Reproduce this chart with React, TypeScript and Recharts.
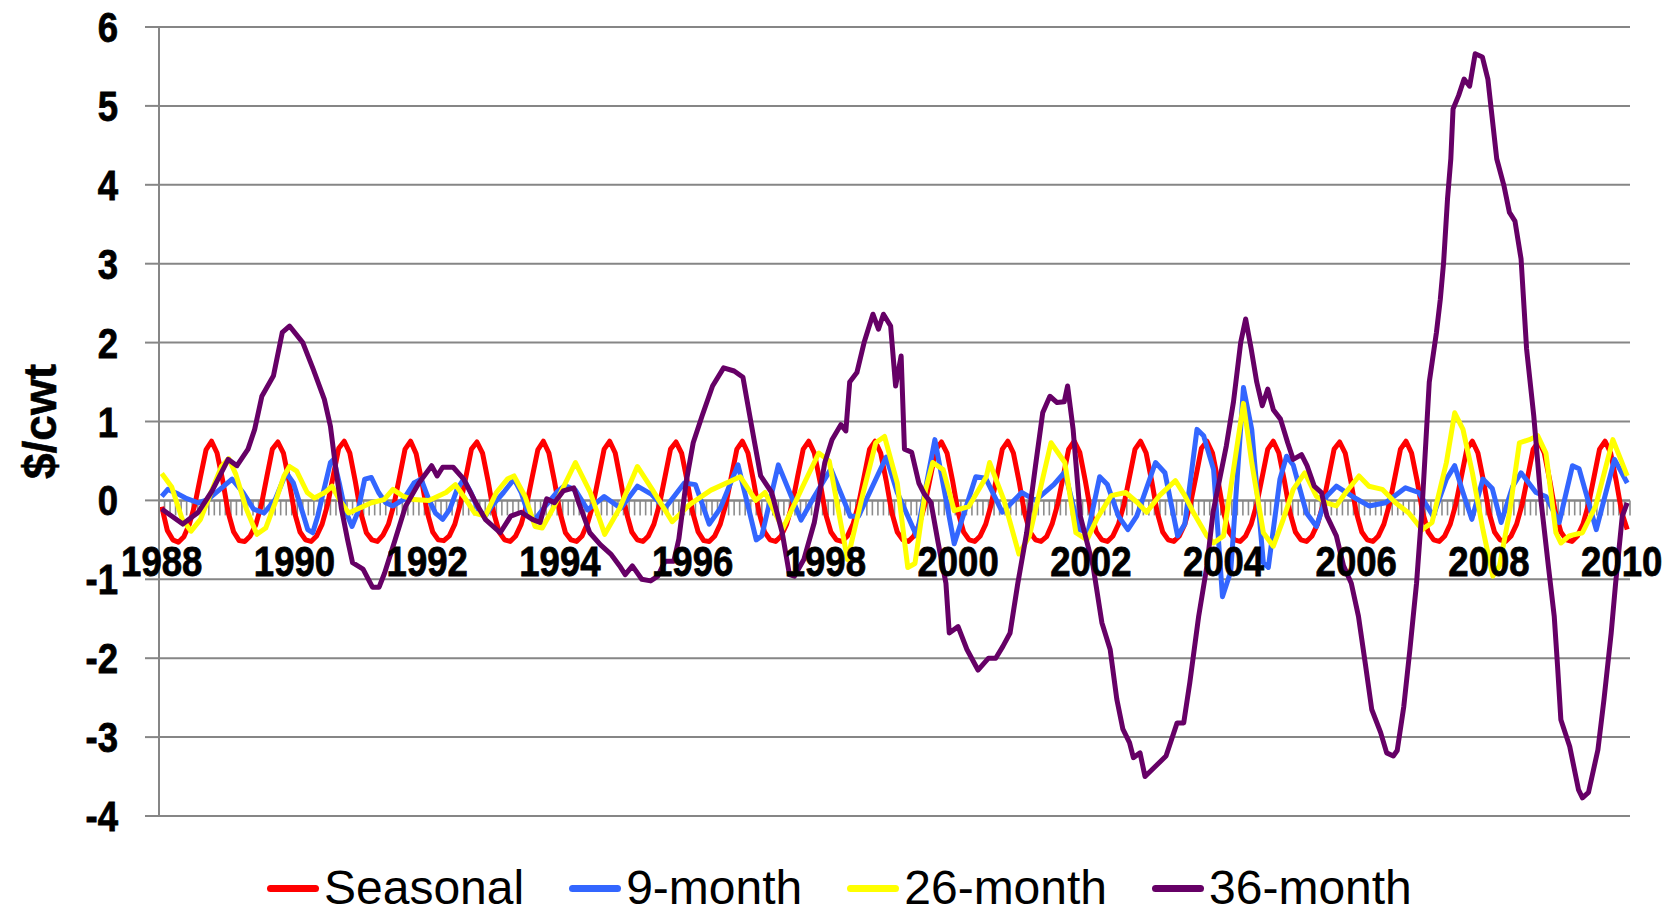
import React from 'react';
import { LineChart, Line, XAxis, YAxis, CartesianGrid, ReferenceLine, ReferenceDot } from 'recharts';

document.body.style.margin = '0';

const FONT = '"Liberation Sans", Arial, Helvetica, sans-serif';
const GRID = '#868686';

// monthly categories Jan 1988 .. Feb 2010, a label every 24 months
const yearLabels = ['1988', '1990', '1992', '1994', '1996', '1998', '2000', '2002', '2004', '2006', '2008', '2010'];
const yTicks = [-4, -3, -2, -1, 0, 1, 2, 3, 4, 5, 6];

// Seasonal cycle, one value per month (Jan..Dec rows)
const seasonal = [
  -0.08, -0.38, -0.5, -0.53, -0.46, -0.3, -0.05, 0.3, 0.64, 0.75, 0.6, 0.26,
  -0.15, -0.4, -0.51, -0.52, -0.45, -0.31, -0.06, 0.3, 0.65, 0.74, 0.6, 0.25,
  -0.15, -0.4, -0.5, -0.52, -0.45, -0.3, -0.05, 0.31, 0.66, 0.75, 0.6, 0.24,
  -0.16, -0.41, -0.5, -0.52, -0.44, -0.3, -0.05, 0.3, 0.65, 0.75, 0.59, 0.25,
  -0.15, -0.4, -0.5, -0.51, -0.45, -0.3, -0.04, 0.3, 0.65, 0.74, 0.6, 0.25,
  -0.15, -0.4, -0.5, -0.52, -0.45, -0.3, -0.05, 0.3, 0.64, 0.75, 0.6, 0.25,
  -0.15, -0.41, -0.5, -0.52, -0.45, -0.29, -0.05, 0.3, 0.65, 0.75, 0.6, 0.24,
  -0.15, -0.4, -0.5, -0.52, -0.45, -0.3, -0.05, 0.3, 0.65, 0.74, 0.6, 0.25,
  -0.15, -0.4, -0.51, -0.52, -0.45, -0.3, -0.05, 0.3, 0.65, 0.75, 0.6, 0.25,
  -0.15, -0.4, -0.5, -0.52, -0.45, -0.3, -0.05, 0.31, 0.65, 0.75, 0.6, 0.25,
  -0.16, -0.4, -0.5, -0.52, -0.45, -0.3, -0.05, 0.3, 0.65, 0.75, 0.6, 0.25,
  -0.15, -0.4, -0.5, -0.52, -0.45, -0.3, -0.05, 0.3, 0.65, 0.74, 0.6, 0.25,
  -0.15, -0.4, -0.5, -0.52, -0.45, -0.3, -0.05, 0.3, 0.65, 0.75, 0.6, 0.25,
  -0.15, -0.4, -0.5, -0.52, -0.46, -0.3, -0.05, 0.3, 0.65, 0.75, 0.61, 0.25,
  -0.15, -0.4, -0.5, -0.52, -0.45, -0.3, -0.05, 0.3, 0.65, 0.75, 0.6, 0.25,
  -0.15, -0.4, -0.5, -0.52, -0.45, -0.3, -0.05, 0.3, 0.66, 0.75, 0.6, 0.25,
  -0.15, -0.4, -0.5, -0.52, -0.45, -0.3, -0.05, 0.3, 0.65, 0.75, 0.6, 0.25,
  -0.15, -0.4, -0.5, -0.52, -0.45, -0.3, -0.05, 0.3, 0.65, 0.74, 0.6, 0.25,
  -0.15, -0.4, -0.5, -0.52, -0.45, -0.3, -0.05, 0.3, 0.65, 0.75, 0.6, 0.25,
  -0.15, -0.4, -0.5, -0.52, -0.45, -0.3, -0.05, 0.3, 0.65, 0.75, 0.6, 0.25,
  -0.15, -0.4, -0.5, -0.52, -0.45, -0.3, -0.05, 0.3, 0.65, 0.75, 0.6, 0.25,
  -0.15, -0.4, -0.5, -0.52, -0.45, -0.3, -0.05, 0.3, 0.65, 0.75, 0.6, 0.25,
  -0.15, -0.37,
];

// [month index, $/cwt]
const nineMonth = [
  [0, 0.05], [1.1, 0.14], [3, 0.08], [4.3, 0.03], [6.6, -0.03], [8.3, 0.01], [10.2, 0.12], [12.7, 0.27],
  [14.7, 0.1], [16.6, -0.11], [18.5, -0.16], [20.5, 0.01], [22.5, 0.35], [23.8, 0.22], [25.1, -0.07],
  [26.4, -0.37], [27.3, -0.41], [28.2, -0.2], [29.2, 0.1], [30.5, 0.48], [31.1, 0.52], [32.1, 0.22],
  [33.1, -0.11], [34.4, -0.33], [35.4, -0.16], [36.7, 0.27], [37.9, 0.29], [39.2, 0.1], [40.5, -0.03],
  [41.8, -0.07], [43.7, 0.01], [45.6, 0.22], [46.9, 0.27], [48.3, 0.01], [49.5, -0.16], [50.8, -0.24],
  [52.1, -0.11], [53.4, 0.14], [54.6, 0.27], [55.9, 0.1], [57.2, -0.11], [58.5, -0.2], [59.7, -0.07],
  [61.8, 0.1], [63.7, 0.27], [65, 0.1], [66.2, -0.16], [67.5, -0.24], [69.4, -0.07], [71.4, 0.1],
  [72.9, 0.19], [74.8, 0.13], [77, -0.12], [80, 0.05], [83, -0.1], [86, 0.18], [88.5, 0.08], [91, -0.1],
  [94.5, 0.22], [96.5, 0.2], [99, -0.3], [101, -0.1], [104.2, 0.45], [107.5, -0.5], [108.5, -0.45],
  [111.5, 0.45], [115.6, -0.25], [118, 0.05], [121, 0.4], [124.5, -0.2], [126, -0.2], [131, 0.55],
  [133, 0.1], [136.5, -0.45], [139.8, 0.77], [143.3, -0.55], [147.2, 0.3], [149, 0.28], [152, -0.15],
  [155.5, 0.1], [158, 0], [161.3, 0.2], [163.3, 0.36], [165.9, -0.37], [167.5, -0.4], [169.6, 0.3],
  [171, 0.2], [173, -0.2], [174.7, -0.37], [176.3, -0.2], [179.7, 0.48], [181.4, 0.35], [183.7, -0.45],
  [185, -0.3], [187.2, 0.9], [188.4, 0.82], [190.2, 0.39], [191.8, -1.22], [193.3, -0.9], [195.6, 1.43],
  [197.1, 0.9], [199.2, -0.79], [200.1, -0.85], [202.2, 0.27], [203.4, 0.56], [204.6, 0.45], [207, -0.16],
  [208.8, -0.33], [210.6, 0.05], [212.4, 0.18], [215.3, 0.05], [218.3, -0.07], [221.3, -0.03], [224.9, 0.16],
  [227.3, 0.1], [229.9, -0.2], [232.3, 0.27], [233.8, 0.44], [235.3, 0.1], [236.9, -0.24], [238.9, 0.27],
  [240.6, 0.15], [242.2, -0.28], [244.3, 0.18], [245.8, 0.35], [248.5, 0.1], [250.3, 0.05], [252.7, -0.28],
  [255.1, 0.44], [256.3, 0.4], [259.4, -0.37], [262.7, 0.52], [265, 0.22],
];

const twentySixMonth = [
  [0, 0.34], [1.8, 0.17], [3.7, -0.24], [5.3, -0.39], [7, -0.24], [8.9, 0.1], [10.8, 0.43], [12.1, 0.53],
  [13.4, 0.33], [15.3, -0.11], [17.2, -0.43], [18.8, -0.35], [20.5, -0.03], [22.1, 0.31], [23.1, 0.43],
  [24.4, 0.37], [26.3, 0.1], [27.6, 0.03], [29.5, 0.1], [30.8, 0.18], [32.1, 0.01], [33.8, -0.16],
  [35.4, -0.11], [37.9, -0.03], [40.2, 0.01], [41.8, 0.14], [43.7, 0.05], [45.6, 0.01], [48.3, 0],
  [51.4, 0.1], [53.1, 0.2], [54.6, 0.05], [56.6, -0.16], [58.5, -0.2], [60.5, 0.1], [62.5, 0.27],
  [63.7, 0.31], [65.7, 0.05], [67.5, -0.33], [68.8, -0.35], [70.7, -0.11], [74.8, 0.48], [77.5, 0.1],
  [80.1, -0.43], [82.8, -0.1], [86, 0.43], [88.6, 0.15], [92.3, -0.27], [95.5, -0.05], [99.3, 0.13],
  [104.6, 0.3], [107.4, 0], [109.1, 0.1], [112.3, -0.36], [116.2, 0.22], [118.8, 0.6], [120.7, 0.5],
  [124, -0.75], [126.5, 0], [129.1, 0.73], [130.7, 0.81], [133, 0.22], [134.9, -0.85], [136.2, -0.8],
  [138.1, 0.13], [139.4, 0.48], [141.3, 0.39], [143.3, -0.13], [145.9, -0.08], [149.1, 0.3], [149.7, 0.48],
  [152.3, 0], [155, -0.68], [156.9, -0.45], [160.8, 0.73], [163.3, 0.48], [165.3, -0.41], [167.3, -0.5],
  [169.2, -0.22], [171.7, 0.06], [174.3, 0.1], [176.3, -0.02], [178.1, -0.15], [180.4, 0.06], [183.3, 0.25],
  [185, 0.06], [186.6, -0.16], [189, -0.45], [190.2, -0.54], [192, -0.45], [195.6, 1.23], [197.1, 0.48],
  [199.2, -0.41], [201, -0.58], [202.8, -0.24], [204.6, 0.14], [206.7, 0.35], [208.8, 0.05], [210.6, -0.03],
  [212.4, -0.07], [214.1, 0.1], [216.5, 0.31], [218.3, 0.18], [220.7, 0.14], [223.1, -0.03], [225.5, -0.16],
  [227.9, -0.37], [229.7, -0.28], [232.3, 0.48], [233.8, 1.11], [235.3, 0.9], [237, 0.35], [238.9, -0.37],
  [240.7, -0.96], [241.9, -0.83], [243.7, -0.16], [245.5, 0.73], [247.3, 0.77], [248.8, 0.82], [250.3, 0.6],
  [252.1, -0.41], [253, -0.54], [254.5, -0.45], [256.9, -0.41], [259.3, -0.07], [262.4, 0.77], [265, 0.31],
];

const thirtySixMonth = [
  [0, -0.11], [3.8, -0.3], [6.6, -0.15], [9.1, 0.12], [12, 0.52], [13.6, 0.44], [15.6, 0.65], [16.8, 0.9],
  [18.1, 1.32], [20.2, 1.58], [21.8, 2.13], [23.1, 2.21], [25.5, 2], [27.4, 1.66], [29.4, 1.28], [30.5, 0.94],
  [31.4, 0.44], [32.5, -0.11], [33.6, -0.5], [34.5, -0.79], [36.4, -0.87], [38.1, -1.1], [39.3, -1.1],
  [40.3, -0.92], [42.2, -0.5], [44.1, -0.07], [46.5, 0.22], [48.8, 0.44], [49.8, 0.31], [50.8, 0.42],
  [52.7, 0.42], [54.6, 0.27], [56.5, 0.01], [58.5, -0.24], [61.2, -0.41], [63.1, -0.2], [65, -0.15],
  [67, -0.24], [68.4, -0.28], [69.6, 0.02], [71, -0.03], [72.6, 0.12], [74.5, 0.16], [75.4, -0.03],
  [77.4, -0.41], [79.3, -0.56], [81.2, -0.68], [82.8, -0.83], [83.8, -0.94], [85.1, -0.83], [86.8, -1],
  [88.4, -1.02], [89.7, -0.96], [91, -0.77], [92.6, -0.77], [93.5, -0.49], [94.8, 0.22], [96.1, 0.73],
  [97.7, 1.07], [99.6, 1.45], [101.6, 1.68], [103.5, 1.64], [105.1, 1.56], [105.8, 1.28], [107.1, 0.77],
  [108.3, 0.31], [110.3, 0.1], [112.2, -0.41], [113.5, -0.94], [114.4, -0.96], [116.1, -0.75], [118, -0.28],
  [119.9, 0.48], [121.2, 0.77], [122.8, 0.96], [123.7, 0.88], [124.4, 1.5], [125.7, 1.62], [127, 2],
  [128.6, 2.36], [129.6, 2.17], [130.5, 2.36], [131.8, 2.21], [132.7, 1.45], [133.7, 1.83], [134.3, 0.65],
  [135.6, 0.61], [136.9, 0.22], [137.9, 0.08], [139.1, -0.03], [140.4, -0.54], [141.8, -1.05], [142.4, -1.68],
  [144, -1.6], [145.6, -1.89], [147.6, -2.15], [149.5, -2], [150.8, -2], [152.1, -1.85], [153.4, -1.68],
  [154.8, -1.05], [156.4, -0.41], [158, 0.44], [159.3, 1.11], [160.6, 1.32], [161.9, 1.24], [163.2, 1.25],
  [163.8, 1.45], [164.8, 0.9], [166.1, -0.2], [168.4, -0.83], [170, -1.55], [171.5, -1.89], [172.7, -2.52],
  [173.8, -2.9], [175, -3.07], [175.7, -3.26], [176.9, -3.2], [177.8, -3.5], [179.7, -3.37], [181.6, -3.24],
  [183.6, -2.82], [184.8, -2.82], [185.9, -2.31], [187.5, -1.47], [189, -0.83], [190.1, -0.15], [192.5, 0.69],
  [193.8, 1.25], [195.1, 2], [196, 2.3], [197, 1.92], [198, 1.5], [199, 1.2], [200, 1.41], [201, 1.15],
  [202.3, 1.03], [203.6, 0.73], [204.6, 0.52], [206.1, 0.58], [207.1, 0.44], [208.4, 0.18], [209.7, 0.1],
  [210.7, -0.2], [212.4, -0.45], [213.7, -0.83], [215.1, -1.05], [216.4, -1.47], [217.7, -2.1], [218.8, -2.65],
  [220.4, -2.94], [221.5, -3.2], [222.7, -3.24], [223.4, -3.17], [224.6, -2.61], [225.7, -1.89], [226.9, -1.05],
  [227.9, -0.1], [229.2, 1.5], [230.5, 2.13], [231.2, 2.55], [231.8, 3.02], [232.5, 3.82], [233.1, 4.33],
  [233.5, 4.96], [234.5, 5.13], [235.5, 5.34], [236.5, 5.25], [237.5, 5.66], [238.8, 5.62], [239.8, 5.34],
  [240.4, 4.96], [241.4, 4.33], [242.7, 3.99], [243.7, 3.65], [244.7, 3.54], [245.8, 3.06], [246.8, 1.92],
  [248.1, 1.07], [249.4, 0], [250.8, -0.87], [251.8, -1.47], [252.4, -2.1], [253, -2.78], [254.6, -3.12],
  [256.2, -3.67], [256.9, -3.77], [258, -3.7], [259.7, -3.16], [260.8, -2.52], [262.1, -1.68], [262.9, -1.05],
  [264.1, -0.2], [265, -0.03],
];

const series = [
  { name: 'Seasonal', color: '#ff0000', data: seasonal.map((v, i) => ({ m: i, v })) },
  { name: '9-month', color: '#3366ff', data: nineMonth.map(([m, v]) => ({ m, v })) },
  { name: '26-month', color: '#ffff00', data: twentySixMonth.map(([m, v]) => ({ m, v })) },
  { name: '36-month', color: '#660066', data: thirtySixMonth.map(([m, v]) => ({ m, v })) },
];

const monthCount = seasonal.length;

const YTick = (props: any) => {
  const { x, y, payload } = props;
  return (
    <g transform={`translate(${x},${y})`}>
      <text transform="scale(0.85,1)" textAnchor="end" dy={15} fontSize={43} fontWeight="bold" fontFamily={FONT} fill="#000" stroke="#000" strokeWidth={0.8}>
        {payload.value}
      </text>
    </g>
  );
};

// the category axis crossing at zero, with a tick between every month
const ZeroAxis = (props: any) => {
  const { x1, y1, x2 } = props;
  const step = (x2 - x1) / monthCount;
  const ticks = [];
  for (let k = 0; k <= monthCount; k++) {
    const tx = x1 + k * step;
    ticks.push(<line key={k} x1={tx} x2={tx} y1={y1} y2={y1 + 15} stroke="#8c8c8c" strokeWidth={1.6} />);
  }
  return (
    <g>
      {ticks}
      <line x1={x1} x2={x2} y1={y1} y2={y1} stroke={GRID} strokeWidth={2} />
    </g>
  );
};

const YearLabel = (props: any) => {
  const { cx, cy, text } = props;
  return (
    <g transform={`translate(${cx},${cy + 76})`}>
      <text transform="scale(0.85,1)" textAnchor="middle" fontSize={43} fontWeight="bold" fontFamily={FONT} fill="#000" stroke="#000" strokeWidth={0.8}>
        {text}
      </text>
    </g>
  );
};

export default function App() {
  return (
    <div style={{ position: 'relative', width: 1677, height: 911, background: '#fff', fontFamily: FONT }}>
      <LineChart width={1677} height={911} margin={{ top: 27, right: 47, left: 0, bottom: 95 }}>
        <CartesianGrid vertical={false} stroke={GRID} strokeWidth={2} />
        <XAxis type="number" dataKey="m" domain={[-0.5, monthCount - 0.5]} hide allowDataOverflow />
        <YAxis
          type="number"
          domain={[-4, 6]}
          ticks={yTicks}
          interval={0}
          width={159}
          tickSize={14}
          tickMargin={27}
          axisLine={{ stroke: GRID, strokeWidth: 2 }}
          tickLine={{ stroke: GRID, strokeWidth: 2 }}
          tick={<YTick />}
          label={{
            content: (p: any) => {
              const vb = p.viewBox || { x: 0, y: 27, width: 159, height: 789 };
              const cx = vb.x + 40;
              const cy = vb.y + vb.height / 2;
              return (
                <text x={cx} y={cy} transform={`rotate(-90,${cx},${cy})`} textAnchor="middle" dy={16} fontSize={46} fontWeight="bold" fontFamily={FONT} fill="#000" stroke="#000" strokeWidth={0.6}>
                  $/cwt
                </text>
              );
            },
          }}
        />
        <ReferenceLine y={0} shape={<ZeroAxis />} />
        {yearLabels.map((t, k) => (
          <ReferenceDot key={t} x={k * 24} y={0} r={1} ifOverflow="visible" shape={<YearLabel text={t} />} />
        ))}
        {series.map((s) => (
          <Line
            key={s.name}
            data={s.data}
            dataKey="v"
            name={s.name}
            type="linear"
            stroke={s.color}
            strokeWidth={5}
            strokeLinejoin="round"
            dot={false}
            activeDot={false}
            isAnimationActive={false}
          />
        ))}
      </LineChart>
      <div style={{ position: 'absolute', left: 267, top: 864, display: 'flex', alignItems: 'center', height: 48 }}>
        {series.map((s) => (
          <div key={s.name} style={{ display: 'flex', alignItems: 'center', marginRight: 45 }}>
            <span style={{ display: 'inline-block', width: 52, height: 7, borderRadius: 4, background: s.color, marginRight: 5 }} />
            <span style={{ fontSize: 48, lineHeight: '48px', color: '#000' }}>{s.name}</span>
          </div>
        ))}
      </div>
    </div>
  );
}
